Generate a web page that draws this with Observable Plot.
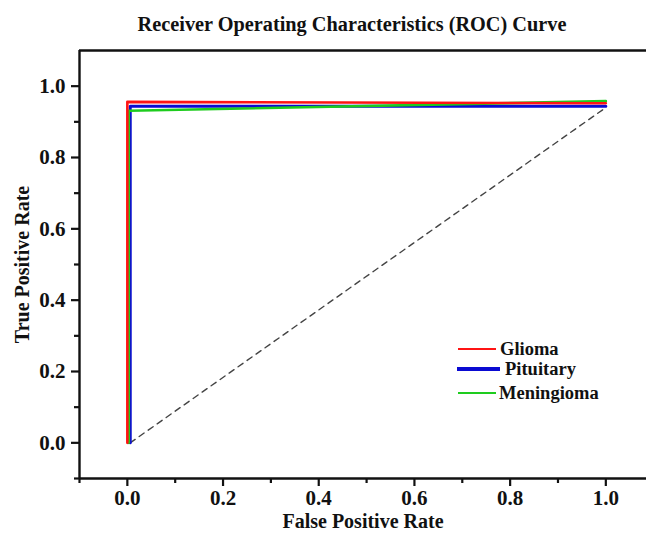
<!DOCTYPE html>
<html>
<head>
<meta charset="utf-8">
<script src="https://cdn.jsdelivr.net/npm/d3@7"></script>
<script src="https://cdn.jsdelivr.net/npm/@observablehq/plot@0.6"></script>
<style>
  html, body { margin: 0; padding: 0; background: #fff; }
  #wrap { position: relative; width: 646px; height: 537px; overflow: hidden; }
  #legend { position: absolute; left: 0; top: 0; font-family: "Liberation Serif", serif; font-weight: bold; font-size: 18.5px; color: #111; }
  .item { position: absolute; display: flex; align-items: center; white-space: nowrap; }
  .swatch { display: inline-block; margin-right: 4px; }
</style>
</head>
<body>
<div id="wrap"><div id="legend"></div></div>
<script>
// ---- data ----
const classes = ["Glioma", "Pituitary", "Meningioma"];
const colors = ["#ff1414", "#0a0ad2", "#1ecc1e"];
const fprGlioma = [0.0, 0.0, 1.0];
const tprGlioma = [0.0, 0.956, 0.952];
const fprPituitary = [0.006, 0.006, 1.0];
const tprPituitary = [0.0, 0.944, 0.944];
const fprMeningioma = [0.003, 0.003, 1.0];
const tprMeningioma = [0.0, 0.931, 0.958];
const chanceX = [0.006, 1.0];
const chanceY = [0.0, 0.940];
const majorTicks = [0.0, 0.2, 0.4, 0.6, 0.8, 1.0];
const minorTicks = [-0.1, 0.1, 0.3, 0.5, 0.7, 0.9];
const axisMin = [-0.1];
const axisMaxY = [1.1];

const toRows = (name, xs, ys) => xs.map((x, i) => ({name, fpr: x, tpr: ys[i]}));
const curves = [
  toRows("Pituitary", fprPituitary, tprPituitary),
  toRows("Meningioma", fprMeningioma, tprMeningioma),
  toRows("Glioma", fprGlioma, tprGlioma)
];
const chance = chanceX.map((x, i) => ({fpr: x, tpr: chanceY[i]}));
const colorOf = Object.fromEntries(classes.map((c, i) => [c, colors[i]]));
const widthOf = {Glioma: 2.6, Pituitary: 3, Meningioma: 2.6};

const fmt = d => d.toFixed(1);

const chart = Plot.plot({
  width: 646,
  height: 537,
  marginLeft: 79,
  marginRight: 0,
  marginTop: 50,
  marginBottom: 59,
  style: {fontFamily: "'Liberation Serif', serif", fontWeight: "bold", fontSize: "21px", color: "#111", background: "white", overflow: "visible"},
  x: {domain: [-0.1, 1.085]},
  y: {domain: [-0.1, 1.1]},
  marks: [
    Plot.axisX({ticks: majorTicks, tickSize: 8, tickPadding: 4, tickFormat: fmt, label: null, strokeWidth: 2.2, stroke: "#111", fontSize: 21}),
    Plot.axisX({ticks: minorTicks, tickSize: 5, tickFormat: () => "", label: null, strokeWidth: 2.2, stroke: "#111"}),
    Plot.axisY({ticks: majorTicks, tickSize: 8, tickPadding: 6, tickFormat: fmt, label: null, strokeWidth: 2.2, stroke: "#111", fontSize: 21}),
    Plot.axisY({ticks: minorTicks, tickSize: 5, tickFormat: () => "", label: null, strokeWidth: 2.2, stroke: "#111"}),
    Plot.ruleY(axisMin, {stroke: "#111", strokeWidth: 2.4}),
    Plot.ruleY(axisMaxY, {stroke: "#111", strokeWidth: 2.4}),
    Plot.ruleX(axisMin, {stroke: "#111", strokeWidth: 2.4}),
    Plot.line(chance, {x: "fpr", y: "tpr", stroke: "#444", strokeWidth: 1.4, strokeDasharray: "6,5"}),
    ...curves.map(rows => Plot.line(rows, {x: "fpr", y: "tpr", stroke: colorOf[rows[0].name], strokeWidth: widthOf[rows[0].name]})),
    Plot.text(["Receiver Operating Characteristics (ROC) Curve"], {frameAnchor: "top", dy: -34, dx: -11, fontSize: 20.3, fontWeight: "bold"}),
    Plot.text(["False Positive Rate"], {frameAnchor: "bottom", dy: 49, fontSize: 20, fontWeight: "bold"}),
    Plot.text(["True Positive Rate"], {frameAnchor: "left", dx: -57, rotate: -90, textAnchor: "middle", fontSize: 20, fontWeight: "bold"})
  ]
});
document.getElementById("wrap").prepend(chart);

// legend (HTML overlay)
const legendPos = [
  {left: 458, top: 349, len: 38, gap: 4, w: 2.6},
  {left: 457, top: 369, len: 43, gap: 5, w: 3.2},
  {left: 458, top: 393, len: 38, gap: 3, w: 2.6}
];
const legend = document.getElementById("legend");
classes.forEach((c, i) => {
  const p = legendPos[i];
  const item = document.createElement("div");
  item.className = "item";
  item.style.left = p.left + "px";
  item.style.top = (p.top - 11) + "px";
  item.style.height = "22px";
  const sw = document.createElement("span");
  sw.className = "swatch";
  sw.style.width = p.len + "px";
  sw.style.height = p.w + "px";
  sw.style.background = colors[i];
  sw.style.marginRight = p.gap + "px";
  const t = document.createElement("span");
  t.textContent = c;
  item.append(sw, t);
  legend.append(item);
});
</script>
</body>
</html>
